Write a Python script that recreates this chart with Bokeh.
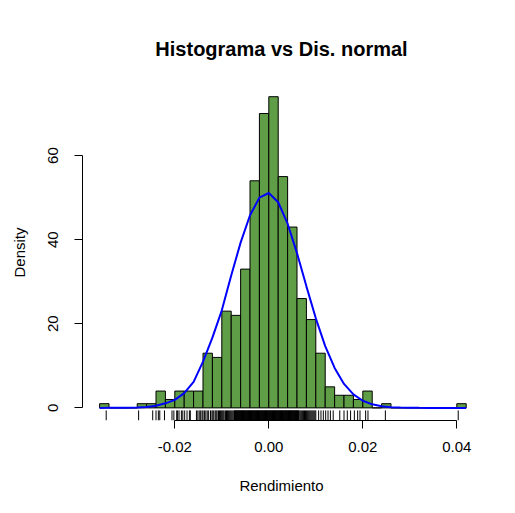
from bokeh.plotting import figure
from bokeh.models import Range1d, FixedTicker, NumeralTickFormatter
from bokeh.embed import file_html
from bokeh.resources import INLINE

# histogram breaks and bar densities
bin_edges = [-0.036, -0.034, -0.032, -0.030, -0.028, -0.026, -0.024, -0.022, -0.020, -0.018,
             -0.016, -0.014, -0.012, -0.010, -0.008, -0.006, -0.004, -0.002, 0.000, 0.002,
             0.004, 0.006, 0.008, 0.010, 0.012, 0.014, 0.016, 0.018, 0.020, 0.022,
             0.024, 0.026, 0.028, 0.030, 0.032, 0.034, 0.036, 0.038, 0.040, 0.042]
density = [1, 0, 0, 0, 1, 1, 4, 2, 4, 4, 4, 13, 12, 23, 22, 33, 54, 70, 74, 55,
           43, 26, 21, 13, 5, 3, 3, 2, 4, 0, 1, 0, 0, 0, 0, 0, 0, 0, 1]

# normal density curve, read at the breaks
curve_y = [0.00, 0.01, 0.01, 0.04, 0.10, 0.23, 0.51, 1.08, 1.9, 3.5,
           6.2, 11.0, 16.7, 23.2, 31.5, 39.3, 45.8, 50.0, 51.1, 48.9,
           43.8, 36.8, 28.9, 21.3, 14.7, 9.5, 5.7, 3.2, 1.7, 0.85,
           0.39, 0.17, 0.07, 0.03, 0.01, 0.0, 0.0, 0.0, 0.0, 0.0]

# rug positions (in units of 1e-4)
rug_e4 = [-346, -277, -247, -240, -235, -232, -222, -206, -202, -196, -194, -191, -186, -183,
          -179, -174, -169, -167, -154, -151, -148, -145, -142, -140, -137, -134, -131, -128,
          -124, -121, -119, -117, -114, -112, -110, -107, -105, -103, -101, -99, -97, -95,
          -92, -90, -88, -86, -84, -82, -80, -78, -76,
          -74, -73, -72, -71, -70, -69, -68, -67, -66, -65, -64, -63, -62, -61, -60, -59,
          -58, -57, -56, -55, -54, -53, -52, -51, -50, -49, -48, -47, -46, -45, -44, -43,
          -42, -41, -40, -39, -38, -37, -36, -35, -34, -33, -32, -31, -30, -29, -28, -27,
          -26, -25, -24, -23, -22, -21, -20, -19, -18, -17, -16, -15, -14, -13, -12, -11,
          -10, -9, -8, -7, -6, -5, -4, -3, -2, -1, 0, 1, 2, 3, 4, 5, 6, 7, 8, 9, 10, 11,
          12, 13, 14, 15, 16, 17, 18, 19, 20, 21, 22, 23, 24, 25, 26, 27, 28, 29, 30, 31,
          32, 33, 34, 35, 36, 37, 38, 39, 40, 41, 42, 43, 44, 45, 46, 47, 48, 49, 50, 51,
          52, 53, 54, 55, 56, 57, 58, 59, 60, 61, 62, 63, 64,
          66, 68, 70, 72, 74, 76, 78, 80, 82, 84, 86, 88, 90, 92, 94, 96, 98, 100,
          106, 111, 116, 121, 126, 131, 137, 151, 160, 167, 174, 182, 189, 194, 206, 211,
          248, 403]

x_ticks = [-0.02, 0.0, 0.02, 0.04]
y_ticks = [0, 20, 40, 60]

title_text = "Histograma vs Dis. normal"
x_label = "Rendimiento"
y_label = "Density"

FONT = "Liberation Sans"

x0, x1 = -0.03964, 0.04504
y0, y1 = -3.0, 76.9

p = figure(width=515, height=513, output_backend="svg", toolbar_location=None,
           x_range=Range1d(x0, x1), y_range=Range1d(y0, y1),
           min_border_left=82, min_border_right=35, min_border_top=84, min_border_bottom=93)

p.background_fill_color = "white"
p.border_fill_color = "white"
p.outline_line_color = None
p.grid.visible = False

p.title.text = title_text
p.title.align = "center"
p.title.text_font = FONT
p.title.text_font_size = "20px"
p.title.text_font_style = "bold"
p.title.text_color = "black"
p.title.standoff = 50

rug = [v / 10000 for v in rug_e4]

p.quad(left=bin_edges[:-1], right=bin_edges[1:], top=density, bottom=0,
       fill_color="#5f9e46", line_color="black", line_width=1)
p.line(bin_edges, curve_y, line_color="blue", line_width=2)
rug_top = y0 + 0.03 * (y1 - y0)
p.segment(x0=rug, y0=[y0] * len(rug), x1=rug, y1=[rug_top] * len(rug),
          line_color="black", line_width=1)

for ax in (p.xaxis[0], p.yaxis[0]):
    ax.axis_line_color = "black"
    ax.major_tick_line_color = "black"
    ax.major_tick_out = 8
    ax.major_tick_in = 0
    ax.minor_tick_line_color = None
    ax.major_label_text_font = FONT
    ax.major_label_text_font_size = "15px"
    ax.major_label_text_color = "black"
    ax.axis_label_text_font = FONT
    ax.axis_label_text_font_size = "15px"
    ax.axis_label_text_font_style = "normal"
    ax.axis_label_text_color = "black"

p.xaxis.ticker = FixedTicker(ticks=x_ticks)
p.xaxis.bounds = (x_ticks[0], x_ticks[-1])
p.xaxis.formatter = NumeralTickFormatter(format="0.00")
p.xaxis.major_label_standoff = 13
p.xaxis.axis_label = x_label
p.xaxis.axis_label_standoff = 22

p.yaxis.ticker = FixedTicker(ticks=y_ticks)
p.yaxis.bounds = (y_ticks[0], y_ticks[-1])
p.yaxis.major_label_orientation = "vertical"
p.yaxis.major_label_standoff = 16
p.yaxis.axis_label = y_label
p.yaxis.axis_label_standoff = 18

open("out.html", "w").write(file_html(p, INLINE))
